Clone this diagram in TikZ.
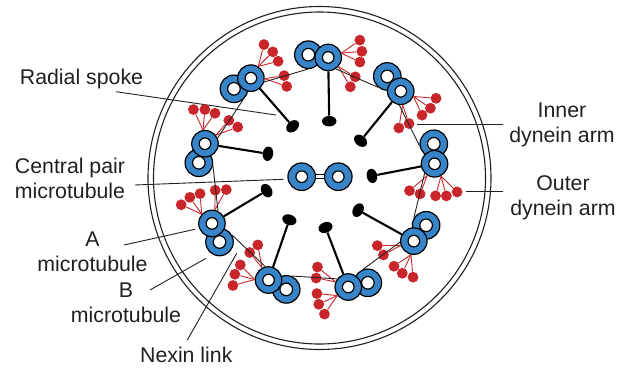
\documentclass[tikz,border=0pt]{standalone}
\usepackage{fontspec}
\setmainfont{Liberation Sans}
\usetikzlibrary{shapes.geometric}
\definecolor{tubeblue}{RGB}{55,133,200}
\definecolor{dyneinred}{RGB}{200,38,42}
\definecolor{inkdark}{RGB}{35,31,32}
% point given along (radial, tangential) axes of the current doublet
\newcommand\lpt[2]{({(#1)*\ca-(#2)*\sa},{(#1)*\sa+(#2)*\ca})}
\begin{document}
\begin{tikzpicture}[x=1pt,y=1pt,
  rim/.style={draw=inkdark,line width=1.1pt},
  tubeA/.style={circle,draw=black,line width=1.2pt,fill=tubeblue,minimum size=26.5pt,inner sep=0pt,
    path picture={\draw[line width=1.2pt,fill=white] (path picture bounding box.center) circle (5.8pt);}},
  tubeB/.style={circle,draw=black,line width=1.2pt,fill=tubeblue,minimum size=27.5pt,inner sep=0pt,
    path picture={\draw[line width=1.2pt,fill=white] (path picture bounding box.center) circle (6.3pt);}},
  tubeC/.style={circle,draw=black,line width=1.2pt,fill=tubeblue,minimum size=27.5pt,inner sep=0pt,
    path picture={\draw[line width=1.2pt,fill=white] (path picture bounding box.center) circle (5.8pt);}},
  spokehead/.style={ellipse,fill=black,minimum width=10.5pt,minimum height=14.5pt,inner sep=0pt},
  spokeline/.style={draw=black,line width=2.1pt},
  dyn/.style={circle,fill=dyneinred,minimum size=10.8pt,inner sep=0pt},
  stalk/.style={draw=dyneinred,line width=0.9pt},
  nexin/.style={draw=inkdark,line width=0.9pt},
  leader/.style={draw=inkdark,line width=0.9pt},
  lbl/.style={font=\fontsize{21.3pt}{25pt}\selectfont,text=inkdark,inner sep=0pt,align=center}
]
\useasboundingbox (-318,-196) rectangle (303,174);

% ciliary membrane
\draw[rim] (1.5,-4) circle (171.5pt);
\draw[rim] (1.5,-4) circle (166pt);

% labels (base anchor sits on the last line)
\node[lbl,anchor=base] (rs) at (-236.5,89.7) {Radial spoke};
\node[lbl,anchor=base] (cp) at (-248,-24.5) {Central pair\\microtubule};
\node[lbl,anchor=base] (am) at (-225.5,-97) {A\\microtubule};
\node[lbl,anchor=base] (bm) at (-192,-148.7) {B\\microtubule};
\node[lbl,anchor=base] (nx) at (-131.7,-188.7) {Nexin link};
\node[lbl,anchor=base] (ida) at (244,32) {Inner\\dynein arm};
\node[lbl,anchor=base] (oda) at (245,-41) {Outer\\dynein arm};

% leader lines
\coordinate (rsS) at (-202,82.3);   \coordinate (rsE) at (-42,59);
\coordinate (cpS) at (-183,-11);    \coordinate (cpE) at (-34.7,-5.3);
\coordinate (amS) at (-194,-71);    \coordinate (amE) at (-123,-55.3);
\coordinate (bmS) at (-168,-116);   \coordinate (bmE) at (-112,-84.3);
\coordinate (nxS) at (-130.7,-166); \coordinate (nxE) at (-81.3,-79.3);
\coordinate (idaS) at (185.3,50);   \coordinate (idaE) at (98.7,50);
\coordinate (odaS) at (185.3,-17);  \coordinate (odaE) at (148,-17);
\foreach \p in {rs,cp,am,bm,nx,ida,oda}
  \draw[leader] (\p S) -- (\p E);

% nine outer doublets with spokes and dynein arms
\foreach \k in {0,...,8}{
  \pgfmathsetmacro\ang{85-40*\k}
  \pgfmathsetmacro\ca{cos(\ang)}
  \pgfmathsetmacro\sa{sin(\ang)}
  \pgfmathtruncatemacro\aout{mod(\ang-67+720,360)}
  \pgfmathtruncatemacro\ain{mod(\ang-127+720,360)}
  \pgfmathsetmacro\hdrot{\ang+5.9}
  \node[tubeB] (B\k) at \lpt{118}{20} {};
  \node[tubeA] (A\k) at \lpt{117}{0} {};
  \node[spokehead,rotate=\hdrot] (H\k) at \lpt{53.6}{-6.6} {};
  \node[dyn] (P\k) at \lpt{137}{-30} {};
  \node[dyn] (Q\k) at \lpt{126}{-33} {};
  \node[dyn] (R\k) at \lpt{115.2}{-32} {};
  \node[dyn] (U\k) at \lpt{100}{-28.7} {};
  \node[dyn] (V\k) at \lpt{89.7}{-24.6} {};
  \draw[spokeline] (A\k) -- (H\k);
  \foreach \d in {P,Q,R} \draw[stalk] (A\k.\aout) -- (\d\k);
  \foreach \d in {U,V} \draw[stalk] (A\k.\ain) -- (\d\k);
}

% nexin links between neighbouring doublets
\foreach \k in {0,...,8}{
  \pgfmathtruncatemacro\nx{mod(\k+1,9)}
  \pgfmathsetmacro\ang{85-40*\k}
  \pgfmathtruncatemacro\la{mod(\ang+219+720,360)}
  \pgfmathtruncatemacro\lb{mod(\ang-40+184+720,360)}
  \draw[nexin] (A\k.\la) -- (B\nx.\lb);
}

% central pair
\node[tubeC] (C1) at (-16.3,-2.7) {};
\node[tubeC] (C2) at (20.3,-2.7) {};
\draw[line width=0.8pt,double=white,double distance=3pt] (C1) -- (C2);
\end{tikzpicture}
\end{document}
